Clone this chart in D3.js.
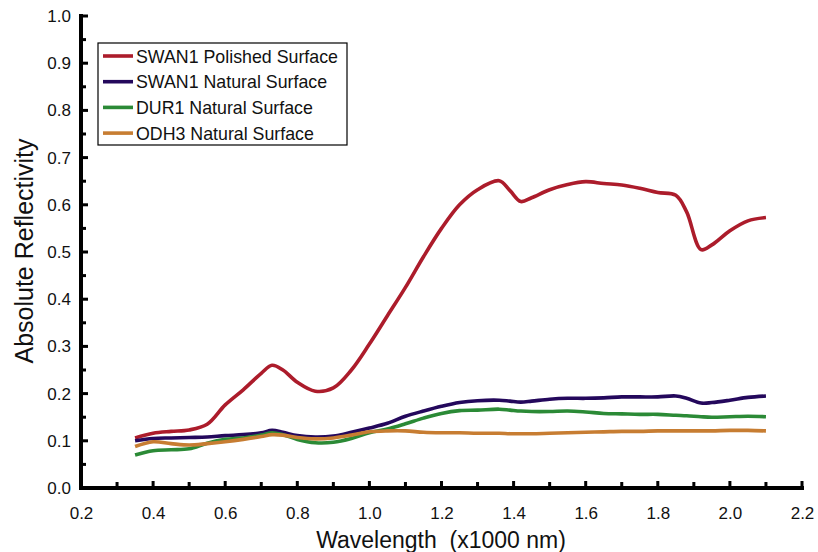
<!DOCTYPE html>
<html>
<head>
<meta charset="utf-8">
<script src="https://cdn.jsdelivr.net/npm/d3@7"></script>
<style>
html,body{margin:0;padding:0;background:#fff;}
svg{display:block;font-family:"Liberation Sans",Arial,sans-serif;}
</style>
</head>
<body>
<svg id="chart" width="818" height="552"></svg>
<script>
const wavelength = [0.35,0.40,0.45,0.50,0.55,0.60,0.65,0.70,0.73,0.76,0.80,0.85,0.90,0.95,1.00,1.05,1.10,1.15,1.20,1.25,1.30,1.36,1.39,1.42,1.45,1.50,1.55,1.60,1.65,1.70,1.75,1.80,1.85,1.88,1.92,1.95,2.00,2.05,2.10];

const swan1Polished = [0.106,0.116,0.120,0.123,0.135,0.176,0.208,0.243,0.260,0.250,0.224,0.205,0.212,0.250,0.305,0.365,0.425,0.490,0.550,0.600,0.632,0.651,0.630,0.607,0.615,0.632,0.643,0.649,0.645,0.642,0.635,0.626,0.620,0.585,0.505,0.515,0.545,0.566,0.573];
const swan1Natural  = [0.100,0.105,0.106,0.107,0.108,0.111,0.113,0.117,0.122,0.118,0.111,0.108,0.110,0.118,0.127,0.137,0.152,0.163,0.173,0.181,0.185,0.186,0.184,0.182,0.184,0.188,0.190,0.190,0.191,0.193,0.193,0.193,0.195,0.190,0.180,0.181,0.186,0.192,0.195];
const dur1Natural   = [0.070,0.079,0.081,0.083,0.095,0.103,0.106,0.112,0.117,0.113,0.103,0.096,0.097,0.105,0.117,0.125,0.136,0.148,0.158,0.164,0.165,0.167,0.165,0.163,0.162,0.162,0.163,0.161,0.158,0.157,0.156,0.156,0.154,0.153,0.151,0.150,0.151,0.152,0.151];
const odh3Natural   = [0.088,0.098,0.094,0.091,0.094,0.098,0.103,0.109,0.113,0.112,0.107,0.104,0.106,0.112,0.119,0.121,0.121,0.118,0.117,0.117,0.116,0.116,0.115,0.115,0.115,0.116,0.117,0.118,0.119,0.120,0.120,0.121,0.121,0.121,0.121,0.121,0.122,0.122,0.121];

const seriesNames  = ["SWAN1 Polished Surface","SWAN1 Natural Surface","DUR1 Natural Surface","ODH3 Natural Surface"];
const seriesValues = [swan1Polished, swan1Natural, dur1Natural, odh3Natural];
const seriesColors = ["#AC1C2B","#24085C","#2B8A36","#C77D32"];

const xTicks = [0.2,0.4,0.6,0.8,1.0,1.2,1.4,1.6,1.8,2.0,2.2];
const xMinorTicks = [0.3,0.5,0.7,0.9,1.1,1.3,1.5,1.7,1.9,2.1];
const yTicks = [0,0.1,0.2,0.3,0.4,0.5,0.6,0.7,0.8,0.9,1.0];
const yMinorTicks = [0.05,0.15,0.25,0.35,0.45,0.55,0.65,0.75,0.85,0.95];

const xTitle = "Wavelength\u00A0\u00A0(x1000 nm)";
const yTitle = "Absolute Reflectivity";

const svg = d3.select("#chart");
const x = d3.scaleLinear().domain([0.2,2.2]).range([81,802]);
const y = d3.scaleLinear().domain([0,1.0]).range([488,16]);

// Lines
const line = d3.line().x(d=>x(d[0])).y(d=>y(d[1])).curve(d3.curveCatmullRom.alpha(0.5));
seriesValues.forEach((vals,i)=>{
  const pts = wavelength.map((w,j)=>[w,vals[j]]);
  svg.append("path").datum(pts)
    .attr("d",line).attr("fill","none")
    .attr("stroke",seriesColors[i]).attr("stroke-width",3.6)
    .attr("stroke-linejoin","round").attr("stroke-linecap","butt");
});

// Axis labels via d3 axes (ticks drawn below as filled rects)
function styleAxis(g){
  g.selectAll("path.domain").remove();
  g.selectAll("g.tick line").remove();
  g.selectAll("g.tick text").attr("fill","#111").attr("font-size",17)
    .attr("font-family","'Liberation Sans',Arial,sans-serif");
}
svg.append("g").attr("transform",`translate(0,${y(0)})`)
  .call(d3.axisBottom(x).tickValues(xTicks).tickSize(0).tickPadding(19)
    .tickFormat(d3.format(".1f")))
  .call(styleAxis);
svg.append("g").attr("transform",`translate(${x(0.2)},0)`)
  .call(d3.axisLeft(y).tickValues(yTicks).tickSize(0).tickPadding(10)
    .tickFormat(d3.format(".1f")))
  .call(styleAxis);

const axisG = svg.append("g").attr("fill","#000");
// spines
axisG.append("rect").attr("x",x(0.2)-2).attr("y",y(0)-2).attr("width",x(2.2)-x(0.2)+4).attr("height",4);
axisG.append("rect").attr("x",x(0.2)-2).attr("y",y(1.0)-2).attr("width",4).attr("height",y(0)-y(1.0)+4);
// x ticks
axisG.selectAll(".xt").data(xTicks).join("rect").attr("class","xt")
  .attr("x",d=>x(d)-1.5).attr("y",y(0)-7).attr("width",3).attr("height",7);
axisG.selectAll(".xm").data(xMinorTicks).join("rect").attr("class","xm")
  .attr("x",d=>x(d)-1.5).attr("y",y(0)-6).attr("width",3).attr("height",6);
// y ticks
axisG.selectAll(".yt").data(yTicks).join("rect").attr("class","yt")
  .attr("x",x(0.2)).attr("y",d=>y(d)-1.5).attr("width",7).attr("height",3);
axisG.selectAll(".ym").data(yMinorTicks).join("rect").attr("class","ym")
  .attr("x",x(0.2)).attr("y",d=>y(d)-1.5).attr("width",5).attr("height",3);

// Titles
svg.append("text").attr("x",441).attr("y",548).attr("text-anchor","middle")
  .attr("font-size",23).attr("fill","#111").text(xTitle);
svg.append("text").attr("transform","translate(33,251) rotate(-90)")
  .attr("text-anchor","middle").attr("font-size",25).attr("fill","#111").text(yTitle);

// Legend
const lg = svg.append("g");
lg.append("rect").attr("x",98).attr("y",43).attr("width",249).attr("height",102)
  .attr("fill","#fff").attr("stroke","#000").attr("stroke-width",1.2);
seriesNames.forEach((n,i)=>{
  const yy = 56 + i*25.7;
  lg.append("line").attr("x1",103).attr("x2",133).attr("y1",yy).attr("y2",yy)
    .attr("stroke",seriesColors[i]).attr("stroke-width",3.6);
  lg.append("text").attr("x",136).attr("y",yy+6.5).attr("font-size",17.8)
    .attr("fill","#111").text(n);
});
</script>
</body>
</html>
